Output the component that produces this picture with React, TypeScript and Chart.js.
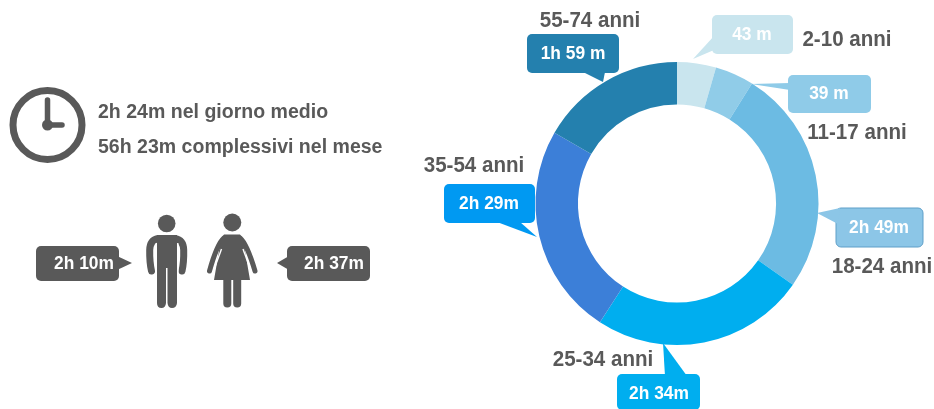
import React, { useEffect, useRef } from "react";
import { Chart, registerables } from "chart.js";

Chart.register(...registerables);

// Data
const categories = ["2-10 anni", "11-17 anni", "18-24 anni", "25-34 anni", "35-54 anni", "55-74 anni"];
const timeLabels = ["43 m", "39 m", "2h 49m", "2h 34m", "2h 29m", "1h 59 m"];
// Arc shares (degrees of the ring per age band)
const sliceShares = [16, 16, 93, 88, 87, 60];
const summaryLines = ["2h 24m nel giorno medio", "56h 23m complessivi nel mese"];
const genderTimes = ["2h 10m", "2h 37m"];

// Styles and layout
const sliceColors = ["#C9E5EE", "#90CCE8", "#6CBBE3", "#00AEEF", "#3C7FD8", "#2480AE"];
const boxColors = ["#C9E5EE", "#8FCBE8", "#8CC6E7", "#00AEEF", "#0099F2", "#2480AE"];
const GREY = "#595959";
const FONT = '"Liberation Sans", Arial, sans-serif';

type Box = { x0: number; x1: number; y0: number; y1: number; tail: number[] };
const boxes: Box[] = [
  { x0: 712, x1: 793, y0: 15, y1: 54, tail: [714, 36, 693, 59, 714, 50] },
  { x0: 788, x1: 871, y0: 75, y1: 113, tail: [790, 83, 751, 84, 790, 90] },
  { x0: 836, x1: 923, y0: 208, y1: 247, tail: [838, 224, 817, 213, 840, 208] },
  { x0: 617, x1: 700, y0: 374, y1: 410, tail: [665, 376, 663, 343, 687, 376] },
  { x0: 444, x1: 535, y0: 184, y1: 223, tail: [497, 222, 537, 237, 520, 222] },
  { x0: 527, x1: 619, y0: 34, y1: 73, tail: [583, 72, 603, 82, 605, 72] },
];
const labelSpots = [
  [847, 40], [857, 133], [882, 267], [603, 360], [474, 166], [590, 21],
];

function roundBox(ctx: CanvasRenderingContext2D, b: Box, color: string, stroke?: string) {
  ctx.fillStyle = color;
  ctx.beginPath();
  ctx.roundRect(b.x0, b.y0, b.x1 - b.x0, b.y1 - b.y0, 5);
  ctx.fill();
  if (stroke) {
    ctx.strokeStyle = stroke;
    ctx.lineWidth = 1;
    ctx.stroke();
  }
  const t = b.tail;
  ctx.beginPath();
  ctx.moveTo(t[0], t[1]);
  ctx.lineTo(t[2], t[3]);
  ctx.lineTo(t[4], t[5]);
  ctx.closePath();
  ctx.fill();
}

function text(ctx: CanvasRenderingContext2D, s: string, x: number, y: number, size: number, color: string, align: CanvasTextAlign = "center") {
  ctx.font = `bold ${size}px ${FONT}`;
  ctx.fillStyle = color;
  ctx.textAlign = align;
  ctx.textBaseline = "middle";
  const w = ctx.measureText(s).width;
  ctx.fillText(s, x, y, w * 0.935);
}

function drawClock(ctx: CanvasRenderingContext2D) {
  ctx.strokeStyle = GREY;
  ctx.lineWidth = 7;
  ctx.beginPath();
  ctx.arc(47.5, 125, 34.5, 0, Math.PI * 2);
  ctx.stroke();
  ctx.lineWidth = 5.5;
  ctx.lineCap = "round";
  ctx.beginPath();
  ctx.moveTo(47.5, 100);
  ctx.lineTo(47.5, 125);
  ctx.lineTo(62, 125);
  ctx.stroke();
  ctx.lineCap = "butt";
  ctx.fillStyle = GREY;
  ctx.beginPath();
  ctx.arc(47.5, 125, 5.5, 0, Math.PI * 2);
  ctx.fill();
}

function gapLine(ctx: CanvasRenderingContext2D, pts: number[], width = 1.6) {
  ctx.strokeStyle = "#FFFFFF";
  ctx.lineWidth = width;
  ctx.lineCap = "butt";
  ctx.beginPath();
  ctx.moveTo(pts[0], pts[1]);
  for (let i = 2; i < pts.length; i += 2) ctx.lineTo(pts[i], pts[i + 1]);
  ctx.stroke();
}

function drawMan(ctx: CanvasRenderingContext2D) {
  ctx.fillStyle = GREY;
  ctx.strokeStyle = GREY;
  ctx.beginPath();
  ctx.arc(166.7, 223.5, 8.8, 0, Math.PI * 2);
  ctx.fill();
  // arms
  ctx.lineWidth = 7;
  ctx.lineCap = "round";
  ctx.beginPath();
  ctx.moveTo(158, 238.5);
  ctx.quadraticCurveTo(150, 240, 149.7, 250);
  ctx.quadraticCurveTo(149.5, 262, 151.5, 271);
  ctx.moveTo(175, 238.5);
  ctx.quadraticCurveTo(183.5, 240, 183.7, 250);
  ctx.quadraticCurveTo(184, 262, 182, 271);
  ctx.stroke();
  // torso and legs
  ctx.beginPath();
  ctx.moveTo(157, 235);
  ctx.lineTo(177, 235);
  ctx.lineTo(177, 303);
  ctx.quadraticCurveTo(176.5, 308, 172, 308);
  ctx.quadraticCurveTo(168, 308, 167.5, 303);
  ctx.lineTo(167.5, 268);
  ctx.lineTo(166, 268);
  ctx.lineTo(166, 303);
  ctx.quadraticCurveTo(165.5, 308, 161.5, 308);
  ctx.quadraticCurveTo(157, 308, 157, 303);
  ctx.closePath();
  ctx.fill();
  ctx.lineCap = "butt";
  gapLine(ctx, [156.2, 243, 156.2, 274], 1.4);
  gapLine(ctx, [177.8, 243, 177.8, 274], 1.4);
}

function drawWoman(ctx: CanvasRenderingContext2D) {
  ctx.fillStyle = GREY;
  ctx.strokeStyle = GREY;
  ctx.beginPath();
  ctx.arc(232.3, 222.5, 9, 0, Math.PI * 2);
  ctx.fill();
  // arms
  ctx.lineWidth = 5;
  ctx.lineCap = "round";
  ctx.beginPath();
  ctx.moveTo(224, 238);
  ctx.quadraticCurveTo(217, 244, 209.5, 271);
  ctx.moveTo(240, 238);
  ctx.quadraticCurveTo(247, 244, 255, 271);
  ctx.stroke();
  ctx.lineCap = "butt";
  // dress
  ctx.beginPath();
  ctx.moveTo(224, 234.5);
  ctx.lineTo(240, 234.5);
  ctx.quadraticCurveTo(244, 240, 244, 245);
  ctx.lineTo(250, 280);
  ctx.lineTo(214, 280);
  ctx.lineTo(220, 245);
  ctx.quadraticCurveTo(220, 240, 224, 234.5);
  ctx.closePath();
  ctx.fill();
  gapLine(ctx, [221.5, 249, 213.5, 271], 1.4);
  gapLine(ctx, [243, 249, 251, 271], 1.4);
  // legs
  ctx.fillStyle = GREY;
  ctx.beginPath();
  ctx.roundRect(223.3, 278, 8, 29.5, [0, 0, 4, 4]);
  ctx.roundRect(233.2, 278, 8, 29.5, [0, 0, 4, 4]);
  ctx.fill();
}

const decorations = {
  id: "decorations",
  afterDraw(chart: Chart) {
    const ctx = chart.ctx;
    ctx.save();
    drawClock(ctx);
    text(ctx, summaryLines[0], 98, 112, 20.9, GREY, "left");
    text(ctx, summaryLines[1], 98, 147, 20.9, GREY, "left");
    drawMan(ctx);
    drawWoman(ctx);
    roundBox(ctx, { x0: 36, x1: 119, y0: 246, y1: 281, tail: [117, 256, 132, 263, 117, 270] }, GREY);
    roundBox(ctx, { x0: 287, x1: 370, y0: 246, y1: 281, tail: [289, 256, 277, 263, 289, 270] }, GREY);
    text(ctx, genderTimes[0], 84, 264, 18.6, "#FFFFFF");
    text(ctx, genderTimes[1], 334, 264, 18.6, "#FFFFFF");
    boxes.forEach((b, i) => {
      roundBox(ctx, b, boxColors[i], i === 2 ? "#5F9FC8" : undefined);
      const cx = [752, 829, 879, 659, 489, 573][i];
      const cy = [35, 94, 228, 394, 204, 54][i];
      text(ctx, timeLabels[i], cx, cy, 18.6, "#FFFFFF");
      text(ctx, categories[i], labelSpots[i][0], labelSpots[i][1], 22, GREY);
    });
    ctx.restore();
  },
};

export default function App() {
  const ref = useRef<HTMLCanvasElement>(null);
  useEffect(() => {
    if (!ref.current) return;
    const chart = new Chart(ref.current, {
      type: "doughnut",
      data: {
        labels: categories,
        datasets: [{ data: sliceShares, backgroundColor: sliceColors, borderWidth: 0 }],
      },
      options: {
        animation: false,
        responsive: false,
        cutout: "70%",
        layout: { padding: { left: 535.5, right: 115.5, top: 62, bottom: 64 } },
        plugins: { legend: { display: false }, tooltip: { enabled: false } },
      },
      plugins: [decorations],
    });
    return () => chart.destroy();
  }, []);
  return (
    <div style={{ position: "fixed", left: 0, top: 0, width: 934, height: 409, background: "#fff" }}>
      <canvas ref={ref} width={934} height={409} style={{ display: "block" }} />
    </div>
  );
}
